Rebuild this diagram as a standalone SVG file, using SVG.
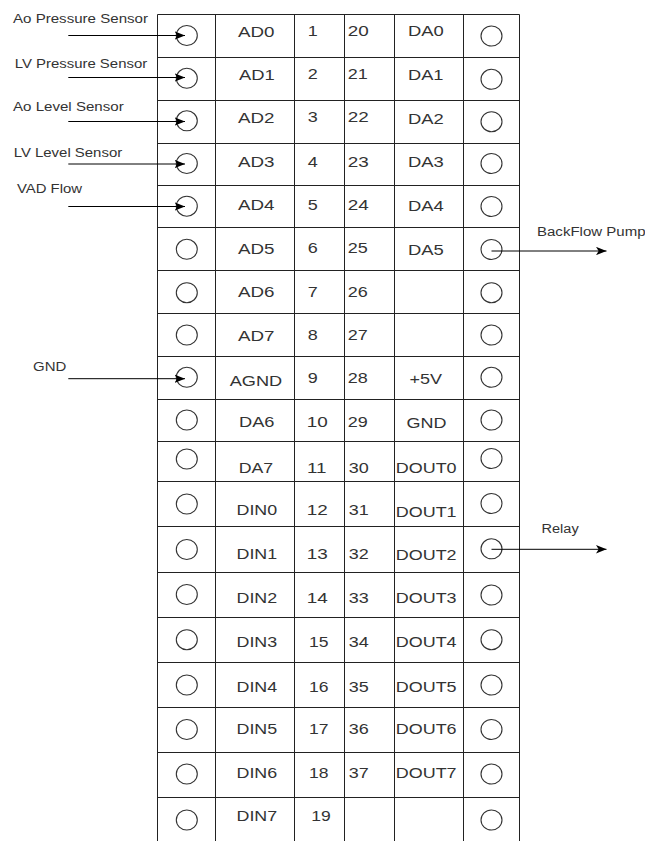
<svg xmlns="http://www.w3.org/2000/svg" width="645" height="841" viewBox="0 0 645 841">
<defs>
<style>
.grid{stroke:#222;stroke-width:1;fill:none}
.pin{fill:none;stroke:#333;stroke-width:1.1}
.t{font-family:"Liberation Sans",Arial,sans-serif;font-size:15px;fill:#333}
.s{font-family:"Liberation Sans",Arial,sans-serif;font-size:12px;fill:#333}
.c{stroke:#000;stroke-width:1;fill:none}
</style>
<marker id="ah" viewBox="0 0 10 8" refX="10" refY="4" markerWidth="10.5" markerHeight="8.5" markerUnits="userSpaceOnUse" orient="auto">
<path d="M0,0 L10,4 L0,8 L2.5,4 z" fill="#000"/>
</marker>
</defs>
<rect width="645" height="841" fill="#fff"/>
<g id="table" class="grid">
<path d="M157.5,14.5 H519.5 M157.5,14.5 V841 M215.5,14.5 V841 M294.5,14.5 V841 M344.5,14.5 V841 M394.5,14.5 V841 M463.5,14.5 V841 M519.5,14.5 V841"/>
<path d="M157.5,57.5 H519.5 M157.5,100.5 H519.5 M157.5,143.5 H519.5 M157.5,185.5 H519.5 M157.5,227.5 H519.5 M157.5,270.5 H519.5 M157.5,313.5 H519.5 M157.5,356.5 H519.5 M157.5,399.5 H519.5 M157.5,441.5 H519.5 M157.5,481.5 H519.5 M157.5,526.5 H519.5 M157.5,572.5 H519.5 M157.5,617.5 H519.5 M157.5,662.5 H519.5 M157.5,707.5 H519.5 M157.5,752.5 H519.5 M157.5,797.5 H519.5"/>
</g>
<g id="row1"><ellipse class="pin" cx="186.8" cy="35.5" rx="10.5" ry="10"/><text class="t" x="238" y="36.5" textLength="36.5" lengthAdjust="spacingAndGlyphs">AD0</text><text class="t" x="312.8" y="35.7" text-anchor="middle" textLength="10" lengthAdjust="spacingAndGlyphs">1</text><text class="t" x="347.8" y="35.7" textLength="21" lengthAdjust="spacingAndGlyphs">20</text><text class="t" x="408" y="36.2" textLength="35.8" lengthAdjust="spacingAndGlyphs">DA0</text><ellipse class="pin" cx="491.5" cy="36" rx="10.5" ry="10"/></g>
<g id="row2"><ellipse class="pin" cx="186.8" cy="78.3" rx="10.5" ry="10"/><text class="t" x="239" y="80" textLength="35.8" lengthAdjust="spacingAndGlyphs">AD1</text><text class="t" x="312.8" y="78.5" text-anchor="middle" textLength="10" lengthAdjust="spacingAndGlyphs">2</text><text class="t" x="347.8" y="78.5" textLength="20" lengthAdjust="spacingAndGlyphs">21</text><text class="t" x="408" y="80" textLength="35.5" lengthAdjust="spacingAndGlyphs">DA1</text><ellipse class="pin" cx="491.5" cy="79.3" rx="10.5" ry="10"/></g>
<g id="row3"><ellipse class="pin" cx="186.8" cy="120.8" rx="10.5" ry="10"/><text class="t" x="238" y="123.3" textLength="36.5" lengthAdjust="spacingAndGlyphs">AD2</text><text class="t" x="312.8" y="121.8" text-anchor="middle" textLength="10" lengthAdjust="spacingAndGlyphs">3</text><text class="t" x="347.8" y="121.8" textLength="21" lengthAdjust="spacingAndGlyphs">22</text><text class="t" x="408" y="123.8" textLength="35.8" lengthAdjust="spacingAndGlyphs">DA2</text><ellipse class="pin" cx="491.5" cy="121.7" rx="10.5" ry="10"/></g>
<g id="row4"><ellipse class="pin" cx="186.8" cy="163.5" rx="10.5" ry="10"/><text class="t" x="238" y="166.7" textLength="36.5" lengthAdjust="spacingAndGlyphs">AD3</text><text class="t" x="312.8" y="166.7" text-anchor="middle" textLength="10" lengthAdjust="spacingAndGlyphs">4</text><text class="t" x="347.8" y="166.7" textLength="21" lengthAdjust="spacingAndGlyphs">23</text><text class="t" x="408" y="166.7" textLength="35.8" lengthAdjust="spacingAndGlyphs">DA3</text><ellipse class="pin" cx="491.5" cy="163.5" rx="10.5" ry="10"/></g>
<g id="row5"><ellipse class="pin" cx="186.8" cy="206.2" rx="10.5" ry="10"/><text class="t" x="238" y="209.5" textLength="36.5" lengthAdjust="spacingAndGlyphs">AD4</text><text class="t" x="312.8" y="210" text-anchor="middle" textLength="10" lengthAdjust="spacingAndGlyphs">5</text><text class="t" x="347.8" y="210" textLength="21" lengthAdjust="spacingAndGlyphs">24</text><text class="t" x="408" y="210.5" textLength="35.8" lengthAdjust="spacingAndGlyphs">DA4</text><ellipse class="pin" cx="491.5" cy="206.5" rx="10.5" ry="10"/></g>
<g id="row6"><ellipse class="pin" cx="186.8" cy="249.3" rx="10.5" ry="10"/><text class="t" x="238" y="254.3" textLength="36.5" lengthAdjust="spacingAndGlyphs">AD5</text><text class="t" x="312.8" y="253.3" text-anchor="middle" textLength="10" lengthAdjust="spacingAndGlyphs">6</text><text class="t" x="347.8" y="253.3" textLength="20" lengthAdjust="spacingAndGlyphs">25</text><text class="t" x="408" y="255" textLength="35.8" lengthAdjust="spacingAndGlyphs">DA5</text><ellipse class="pin" cx="491.5" cy="249.5" rx="10.5" ry="10"/></g>
<g id="row7"><ellipse class="pin" cx="186.8" cy="292.7" rx="10.5" ry="10"/><text class="t" x="238" y="296.7" textLength="36.5" lengthAdjust="spacingAndGlyphs">AD6</text><text class="t" x="312.8" y="296.7" text-anchor="middle" textLength="10" lengthAdjust="spacingAndGlyphs">7</text><text class="t" x="347.8" y="296.7" textLength="20" lengthAdjust="spacingAndGlyphs">26</text><ellipse class="pin" cx="491.5" cy="292.7" rx="10.5" ry="10"/></g>
<g id="row8"><ellipse class="pin" cx="186.8" cy="335" rx="10.5" ry="10"/><text class="t" x="238" y="340.7" textLength="36.5" lengthAdjust="spacingAndGlyphs">AD7</text><text class="t" x="312.8" y="340" text-anchor="middle" textLength="10" lengthAdjust="spacingAndGlyphs">8</text><text class="t" x="347.8" y="340" textLength="20" lengthAdjust="spacingAndGlyphs">27</text><ellipse class="pin" cx="491.5" cy="335" rx="10.5" ry="10"/></g>
<g id="row9"><ellipse class="pin" cx="186.8" cy="377.3" rx="10.5" ry="10"/><text class="t" x="229.7" y="385.7" textLength="52.5" lengthAdjust="spacingAndGlyphs">AGND</text><text class="t" x="312.8" y="383.3" text-anchor="middle" textLength="10" lengthAdjust="spacingAndGlyphs">9</text><text class="t" x="347.8" y="383.3" textLength="20" lengthAdjust="spacingAndGlyphs">28</text><text class="t" x="409.5" y="384" textLength="32.5" lengthAdjust="spacingAndGlyphs">+5V</text><ellipse class="pin" cx="491.5" cy="377.3" rx="10.5" ry="10"/></g>
<g id="row10"><ellipse class="pin" cx="186.8" cy="420" rx="10.5" ry="10"/><text class="t" x="239" y="426.7" textLength="35.5" lengthAdjust="spacingAndGlyphs">DA6</text><text class="t" x="306.8" y="426.7" textLength="21" lengthAdjust="spacingAndGlyphs">10</text><text class="t" x="347.8" y="426.7" textLength="20" lengthAdjust="spacingAndGlyphs">29</text><text class="t" x="406.5" y="428.3" textLength="40" lengthAdjust="spacingAndGlyphs">GND</text><ellipse class="pin" cx="491.5" cy="420" rx="10.5" ry="10"/></g>
<g id="row11"><ellipse class="pin" cx="186.8" cy="459" rx="10.5" ry="10"/><text class="t" x="238.7" y="472.7" textLength="34.5" lengthAdjust="spacingAndGlyphs">DA7</text><text class="t" x="307" y="472.7" textLength="19.5" lengthAdjust="spacingAndGlyphs">11</text><text class="t" x="348.8" y="472.7" textLength="20" lengthAdjust="spacingAndGlyphs">30</text><text class="t" x="395.8" y="473.3" textLength="60.8" lengthAdjust="spacingAndGlyphs">DOUT0</text><ellipse class="pin" cx="491.5" cy="458.5" rx="10.5" ry="10"/></g>
<g id="row12"><ellipse class="pin" cx="186.8" cy="504" rx="10.5" ry="10"/><text class="t" x="236.5" y="515" textLength="40.7" lengthAdjust="spacingAndGlyphs">DIN0</text><text class="t" x="306.7" y="515" textLength="21" lengthAdjust="spacingAndGlyphs">12</text><text class="t" x="348.8" y="515" textLength="20" lengthAdjust="spacingAndGlyphs">31</text><text class="t" x="395.8" y="516.7" textLength="60.8" lengthAdjust="spacingAndGlyphs">DOUT1</text><ellipse class="pin" cx="491.5" cy="503.5" rx="10.5" ry="10"/></g>
<g id="row13"><ellipse class="pin" cx="186.8" cy="549.5" rx="10.5" ry="10"/><text class="t" x="236.5" y="559.3" textLength="40.7" lengthAdjust="spacingAndGlyphs">DIN1</text><text class="t" x="306.7" y="559.3" textLength="21" lengthAdjust="spacingAndGlyphs">13</text><text class="t" x="348.8" y="559.3" textLength="20" lengthAdjust="spacingAndGlyphs">32</text><text class="t" x="395.8" y="560" textLength="60.8" lengthAdjust="spacingAndGlyphs">DOUT2</text><ellipse class="pin" cx="491.5" cy="548.8" rx="10.5" ry="10"/></g>
<g id="row14"><ellipse class="pin" cx="186.8" cy="594.5" rx="10.5" ry="10"/><text class="t" x="236.5" y="602.7" textLength="40.7" lengthAdjust="spacingAndGlyphs">DIN2</text><text class="t" x="306.7" y="602.7" textLength="21" lengthAdjust="spacingAndGlyphs">14</text><text class="t" x="348.8" y="602.7" textLength="20" lengthAdjust="spacingAndGlyphs">33</text><text class="t" x="395.8" y="603.3" textLength="60.8" lengthAdjust="spacingAndGlyphs">DOUT3</text><ellipse class="pin" cx="491.5" cy="595" rx="10.5" ry="10"/></g>
<g id="row15"><ellipse class="pin" cx="186.8" cy="639.7" rx="10.5" ry="10"/><text class="t" x="236.5" y="647.3" textLength="40.7" lengthAdjust="spacingAndGlyphs">DIN3</text><text class="t" x="309" y="647.3" textLength="19.5" lengthAdjust="spacingAndGlyphs">15</text><text class="t" x="348.8" y="647.3" textLength="20" lengthAdjust="spacingAndGlyphs">34</text><text class="t" x="395.8" y="647.3" textLength="60.8" lengthAdjust="spacingAndGlyphs">DOUT4</text><ellipse class="pin" cx="491.5" cy="639.7" rx="10.5" ry="10"/></g>
<g id="row16"><ellipse class="pin" cx="186.8" cy="685" rx="10.5" ry="10"/><text class="t" x="236.5" y="691.7" textLength="40.7" lengthAdjust="spacingAndGlyphs">DIN4</text><text class="t" x="309" y="691.7" textLength="19.5" lengthAdjust="spacingAndGlyphs">16</text><text class="t" x="348.8" y="691.7" textLength="20" lengthAdjust="spacingAndGlyphs">35</text><text class="t" x="395.8" y="691.7" textLength="60.8" lengthAdjust="spacingAndGlyphs">DOUT5</text><ellipse class="pin" cx="491.5" cy="685" rx="10.5" ry="10"/></g>
<g id="row17"><ellipse class="pin" cx="186.8" cy="729.5" rx="10.5" ry="10"/><text class="t" x="236.5" y="734" textLength="40.7" lengthAdjust="spacingAndGlyphs">DIN5</text><text class="t" x="309" y="734" textLength="19.5" lengthAdjust="spacingAndGlyphs">17</text><text class="t" x="348.8" y="734" textLength="20" lengthAdjust="spacingAndGlyphs">36</text><text class="t" x="395.8" y="734" textLength="60.8" lengthAdjust="spacingAndGlyphs">DOUT6</text><ellipse class="pin" cx="491.5" cy="729.5" rx="10.5" ry="10"/></g>
<g id="row18"><ellipse class="pin" cx="186.8" cy="774" rx="10.5" ry="10"/><text class="t" x="236.5" y="777.7" textLength="40.7" lengthAdjust="spacingAndGlyphs">DIN6</text><text class="t" x="309" y="777.7" textLength="19.5" lengthAdjust="spacingAndGlyphs">18</text><text class="t" x="348.8" y="777.7" textLength="20" lengthAdjust="spacingAndGlyphs">37</text><text class="t" x="395.8" y="777.7" textLength="60.8" lengthAdjust="spacingAndGlyphs">DOUT7</text><ellipse class="pin" cx="491.5" cy="774" rx="10.5" ry="10"/></g>
<g id="row19"><ellipse class="pin" cx="186.8" cy="820" rx="10.5" ry="10"/><text class="t" x="236.5" y="820.7" textLength="40.7" lengthAdjust="spacingAndGlyphs">DIN7</text><text class="t" x="311.3" y="820.7" textLength="19.5" lengthAdjust="spacingAndGlyphs">19</text><ellipse class="pin" cx="491.5" cy="820" rx="10.5" ry="10"/></g>
<g id="label-ao-pressure"><text class="s" x="13" y="22.7" textLength="135" lengthAdjust="spacingAndGlyphs">Ao Pressure Sensor</text></g>
<g id="label-lv-pressure"><text class="s" x="14.7" y="68.3" textLength="132.5" lengthAdjust="spacingAndGlyphs">LV Pressure Sensor</text></g>
<g id="label-ao-level"><text class="s" x="13" y="110.7" textLength="110.7" lengthAdjust="spacingAndGlyphs">Ao Level Sensor</text></g>
<g id="label-lv-level"><text class="s" x="13.7" y="156.7" textLength="108.5" lengthAdjust="spacingAndGlyphs">LV Level Sensor</text></g>
<g id="label-vad-flow"><text class="s" x="17" y="193.3" textLength="65" lengthAdjust="spacingAndGlyphs">VAD Flow</text></g>
<g id="label-gnd"><text class="s" x="33" y="370.7" textLength="33.3" lengthAdjust="spacingAndGlyphs">GND</text></g>
<g id="label-backflow"><text class="s" x="537" y="236" textLength="108.5" lengthAdjust="spacingAndGlyphs">BackFlow Pump</text></g>
<g id="label-relay"><text class="s" x="541.5" y="533.3" textLength="37.2" lengthAdjust="spacingAndGlyphs">Relay</text></g>
<g id="connectors" class="c">
<line x1="68.3" y1="35.5" x2="185" y2="35.5" marker-end="url(#ah)"/>
<line x1="68.3" y1="77.5" x2="185" y2="77.5" marker-end="url(#ah)"/>
<line x1="68.3" y1="121.5" x2="185" y2="121.5" marker-end="url(#ah)"/>
<line x1="68.3" y1="164" x2="185" y2="164" marker-end="url(#ah)"/>
<line x1="68.3" y1="206.5" x2="185" y2="206.5" marker-end="url(#ah)"/>
<line x1="68.3" y1="378.7" x2="185" y2="378.7" marker-end="url(#ah)"/>
<line x1="491.5" y1="251" x2="606.5" y2="251" marker-end="url(#ah)"/>
<line x1="491.5" y1="549.3" x2="606.5" y2="549.3" marker-end="url(#ah)"/>
</g>
</svg>
